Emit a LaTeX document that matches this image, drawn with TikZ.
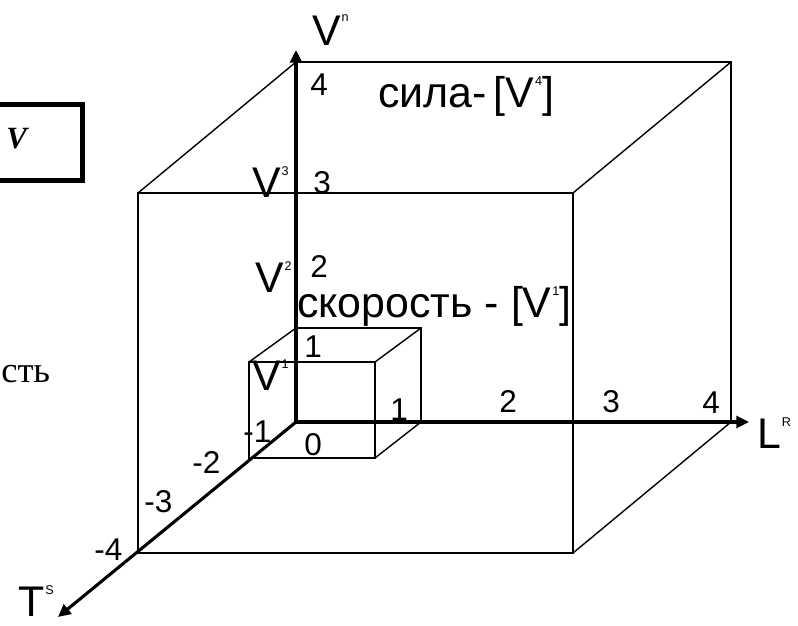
\documentclass[tikz,border=0pt]{standalone}
\usepackage{fontspec}
\setmainfont{Liberation Sans}
\newfontfamily\oldserif{Liberation Serif}
\usetikzlibrary{arrows.meta}

\newcommand\axsup[3][15pt]{#2\kern0.6pt\raisebox{#1}{\fontsize{9}{9}\selectfont #3}}

\begin{document}
\begin{tikzpicture}[
  x=0.025cm,
  y=-0.025cm,
  cube/.style={line width=1pt},
  axis/.style={line width=2.2pt, -{Triangle[length=9pt,width=8.5pt]}},
  lab/.style={inner sep=0pt, anchor=base west, font=\fontsize{30.5}{30.5}\selectfont},
  num/.style={inner sep=0pt, anchor=base west, font=\fontsize{22.4}{22.4}\selectfont}
]
  \useasboundingbox (0,0) rectangle (798,626);

  % big cube
  \coordinate (O) at (296,422);
  \coordinate (B1) at (296,62);
  \coordinate (B2) at (731,62);
  \coordinate (B3) at (731,422);
  \coordinate (F1) at (138,193);
  \coordinate (F2) at (573,193);
  \coordinate (F3) at (573,553);
  \coordinate (F4) at (138,553);

  % small cube
  \coordinate (s1) at (296,328);
  \coordinate (s2) at (421,328);
  \coordinate (s3) at (421,422);
  \coordinate (f1) at (249,362);
  \coordinate (f2) at (375,362);
  \coordinate (f3) at (375,458);
  \coordinate (f4) at (249,458);

  \coordinate (Vtip) at (296,50);
  \coordinate (Ltip) at (749,422);
  \coordinate (Ttip) at (58,617);

  \draw[cube] (B1) -- (B2) -- (B3);
  \draw[cube] (F1) -- (F2) -- (F3) -- (F4) -- cycle;
  \draw[cube] (B1) -- (F1) (B2) -- (F2) (B3) -- (F3);

  \draw[cube] (s1) -- (s2) -- (s3);
  \draw[cube] (f1) -- (f2) -- (f3) -- (f4) -- cycle;
  \draw[cube] (s1) -- (f1) (s2) -- (f2) (s3) -- (f3);

  \draw[axis] (O) -- (Vtip);
  \draw[axis] (O) -- (Ltip);
  \draw[axis] (O) -- (Ttip);

  % axis names
  \node[lab] (vn) at (312,45) {\axsup[16.5pt]{V}{n}};
  \node[lab] (lr) at (757,448) {\axsup{L}{R}};
  \node[lab] (ts) at (18,616) {\axsup{T}{S}};
  \node[lab] (v3) at (252,197) {\axsup{V}{3}};
  \node[lab] (v2) at (255,292) {\axsup{V}{2}};
  \node[lab] (v1) at (252,390) {\axsup{V}{1}};

  \node[lab] (sila) at (378,107) {сила-\hspace{5pt}[\axsup{V}{4}]};
  \node[lab] (skor) at (297,317) {скорость - [\axsup{V}{1}]};

  % scale marks
  \node[num] (n4v) at (310,95) {4};
  \node[num] (n3v) at (313,193) {3};
  \node[num] (n2v) at (310,277) {2};
  \node[num] (n1v) at (304,357) {1};
  \node[num] (n0) at (304,455) {0};
  \node[num] (n1h) at (390,420) {1};
  \node[num] (n2h) at (499,412) {2};
  \node[num] (n3h) at (602,412) {3};
  \node[num] (n4h) at (702,413) {4};
  \node[num] (m1) at (243,442) {-1};
  \node[num] (m2) at (192,473) {-2};
  \node[num] (m3) at (144,512) {-3};
  \node[num] (m4) at (94,560) {-4};

  % cut-off left part
  \draw[line width=3.5pt] (-20,104.5) -- (82.5,104.5) -- (82.5,180.5) -- (-20,180.5);
  \node[inner sep=0pt, anchor=base west, font=\oldserif\bfseries\itshape\fontsize{22}{22}\selectfont] (vbox) at (6,148) {V};
  \node[inner sep=0pt, anchor=base west, font=\oldserif\fontsize{26}{26}\selectfont] (stb) at (1,382) {сть};
\end{tikzpicture}
\end{document}
